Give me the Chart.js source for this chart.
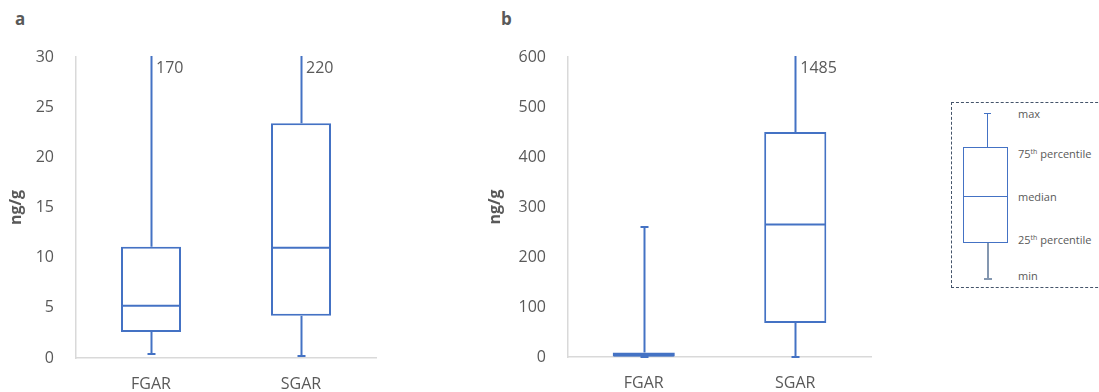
<!DOCTYPE html>
<html>
<head>
<meta charset="utf-8">
<script src="https://cdn.jsdelivr.net/npm/chart.js@4.4.1/dist/chart.umd.min.js"></script>
<style>
  body { margin: 0; background: #fff; font-family: 'Open Sans', sans-serif; }
  #wrap { position: relative; width: 1099px; height: 392px; overflow: hidden; }
  .panel { position: absolute; top: 0; height: 392px; }
  .tag { position: absolute; top: 7px; font: bold 17px 'Open Sans', sans-serif; color: #595959; }
  #legend { position: absolute; left: 951px; top: 102px; width: 160px; height: 184px;
            border: 1px dashed #44546a; }
  #legend div { position: absolute; }
  #legend .lab { font: 11px 'Open Sans', sans-serif; color: #595959; white-space: nowrap; line-height: 12px; }
  #legend sup { font-size: 7px; vertical-align: 4px; }
</style>
</head>
<body>
<div id="wrap">
  <div class="tag" style="left:15px">a</div>
  <div class="tag" style="left:501px">b</div>
  <div class="panel" style="left:0;width:392px"><canvas id="chartA"></canvas></div>
  <div class="panel" style="left:480px;width:400px"><canvas id="chartB"></canvas></div>
  <div id="legend">
    <div style="left:35px;top:10px;width:1px;height:35px;background:#4472c4"></div>
    <div style="left:32px;top:10px;width:7px;height:1px;background:#4472c4"></div>
    <div style="left:11px;top:44px;width:45px;height:96px;border:1px solid #4472c4;box-sizing:border-box"></div>
    <div style="left:11px;top:93px;width:45px;height:1px;background:#4472c4"></div>
    <div style="left:35px;top:140px;width:2px;height:36px;background:#8497b0"></div>
    <div style="left:32px;top:175px;width:8px;height:2px;background:#8497b0"></div>
    <div class="lab" style="left:66px;top:5px">max</div>
    <div class="lab" style="left:66px;top:43px">75<sup>th</sup> percentile</div>
    <div class="lab" style="left:66px;top:88px">median</div>
    <div class="lab" style="left:66px;top:129px">25<sup>th</sup> percentile</div>
    <div class="lab" style="left:66px;top:167px">min</div>
  </div>
</div>
<script>
const categories = ['FGAR', 'SGAR'];

// panel a
const aMin = [0.4, 0.2];
const aQ1 = [2.6, 4.2];
const aMedian = [5.2, 11.0];
const aQ3 = [11.1, 23.4];
const aMax = [170, 220];
const aTicks = { max: 30, step: 5 };

// panel b
const bMin = [0, 0];
const bQ1 = [1, 68];
const bMedian = [3, 265];
const bQ3 = [9, 450];
const bMax = [260, 1485];
const bTicks = { max: 600, step: 100 };

const blue = '#4472c4';
const grey = '#595959';

// whiskers, caps, medians and labels for maxima off the scale
const boxPlugin = {
  id: 'boxExtras',
  afterDatasetsDraw(chart, args, opts) {
    const { ctx, chartArea } = chart;
    const y = chart.scales.y;
    const meta = chart.getDatasetMeta(0);
    ctx.save();
    ctx.beginPath();
    ctx.rect(chartArea.left, chartArea.top - 1, chartArea.right - chartArea.left, chartArea.bottom - chartArea.top + 2);
    ctx.clip();
    ctx.strokeStyle = blue;
    ctx.lineWidth = 2;
    meta.data.forEach((bar, i) => {
      const x = Math.round(bar.x) + 0.5;
      const half = bar.width / 2;
      const line = (x1, y1, x2, y2) => {
        ctx.beginPath();
        ctx.moveTo(x1, y1);
        ctx.lineTo(x2, y2);
        ctx.stroke();
      };
      line(x, y.getPixelForValue(opts.min[i]), x, y.getPixelForValue(opts.q1[i]));
      line(x, y.getPixelForValue(opts.q3[i]), x, y.getPixelForValue(opts.max[i]));
      const pMin = y.getPixelForValue(opts.min[i]);
      line(x - 4, pMin, x + 4, pMin);
      if (opts.max[i] <= y.max) {
        const pMax = y.getPixelForValue(opts.max[i]);
        line(x - 4, pMax, x + 4, pMax);
      }
      const pMed = y.getPixelForValue(opts.median[i]);
      line(bar.x - half + 1, pMed, bar.x + half - 1, pMed);
    });
    ctx.restore();

    ctx.save();
    ctx.fillStyle = grey;
    ctx.font = '16px "Open Sans", sans-serif';
    ctx.textBaseline = 'middle';
    meta.data.forEach((bar, i) => {
      if (opts.max[i] > y.max) {
        ctx.fillText(String(opts.max[i]), bar.x + 5, chartArea.top + 11);
      }
    });
    ctx.restore();
  }
};

function makeChart(id, d, ticks, yWidth, padRight, xHeight, barPct, titlePad) {
  return new Chart(document.getElementById(id), {
    type: 'bar',
    data: {
      labels: categories,
      datasets: [{
        data: categories.map((c, i) => [d.q1[i], d.q3[i]]),
        backgroundColor: '#ffffff',
        borderColor: blue,
        borderWidth: 2,
        borderSkipped: false,
        barPercentage: barPct,
        categoryPercentage: 1
      }]
    },
    options: {
      responsive: true,
      maintainAspectRatio: false,
      animation: false,
      layout: { padding: { left: 0, top: 57, right: padRight, bottom: 0 } },
      plugins: {
        legend: { display: false },
        tooltip: { enabled: false },
        boxExtras: d
      },
      scales: {
        x: {
          grid: { display: false },
          border: { color: '#d9d9d9', width: 1.5 },
          ticks: { color: grey, font: { family: 'Open Sans', size: 16 }, padding: 9 },
          afterFit(scale) { scale.height = xHeight; }
        },
        y: {
          min: 0,
          max: ticks.max,
          grid: { display: false },
          border: { color: '#d9d9d9', width: 1.5 },
          ticks: { stepSize: ticks.step, color: grey, font: { family: 'Open Sans', size: 16 }, padding: 14 },
          title: {
            display: true,
            text: 'ng/g',
            color: grey,
            font: { family: 'Open Sans', size: 16, weight: 'bold' },
            padding: { top: titlePad, bottom: 0 }
          },
          afterFit(scale) { scale.width = yWidth; }
        }
      }
    },
    plugins: [boxPlugin]
  });
}

makeChart('chartA', { min: aMin, q1: aQ1, median: aMedian, q3: aQ3, max: aMax }, aTicks, 76, 16, 34, 0.4, 7);
makeChart('chartB', { min: bMin, q1: bQ1, median: bMedian, q3: bQ3, max: bMax }, bTicks, 88, 9, 35, 0.41, 6);
</script>
</body>
</html>
